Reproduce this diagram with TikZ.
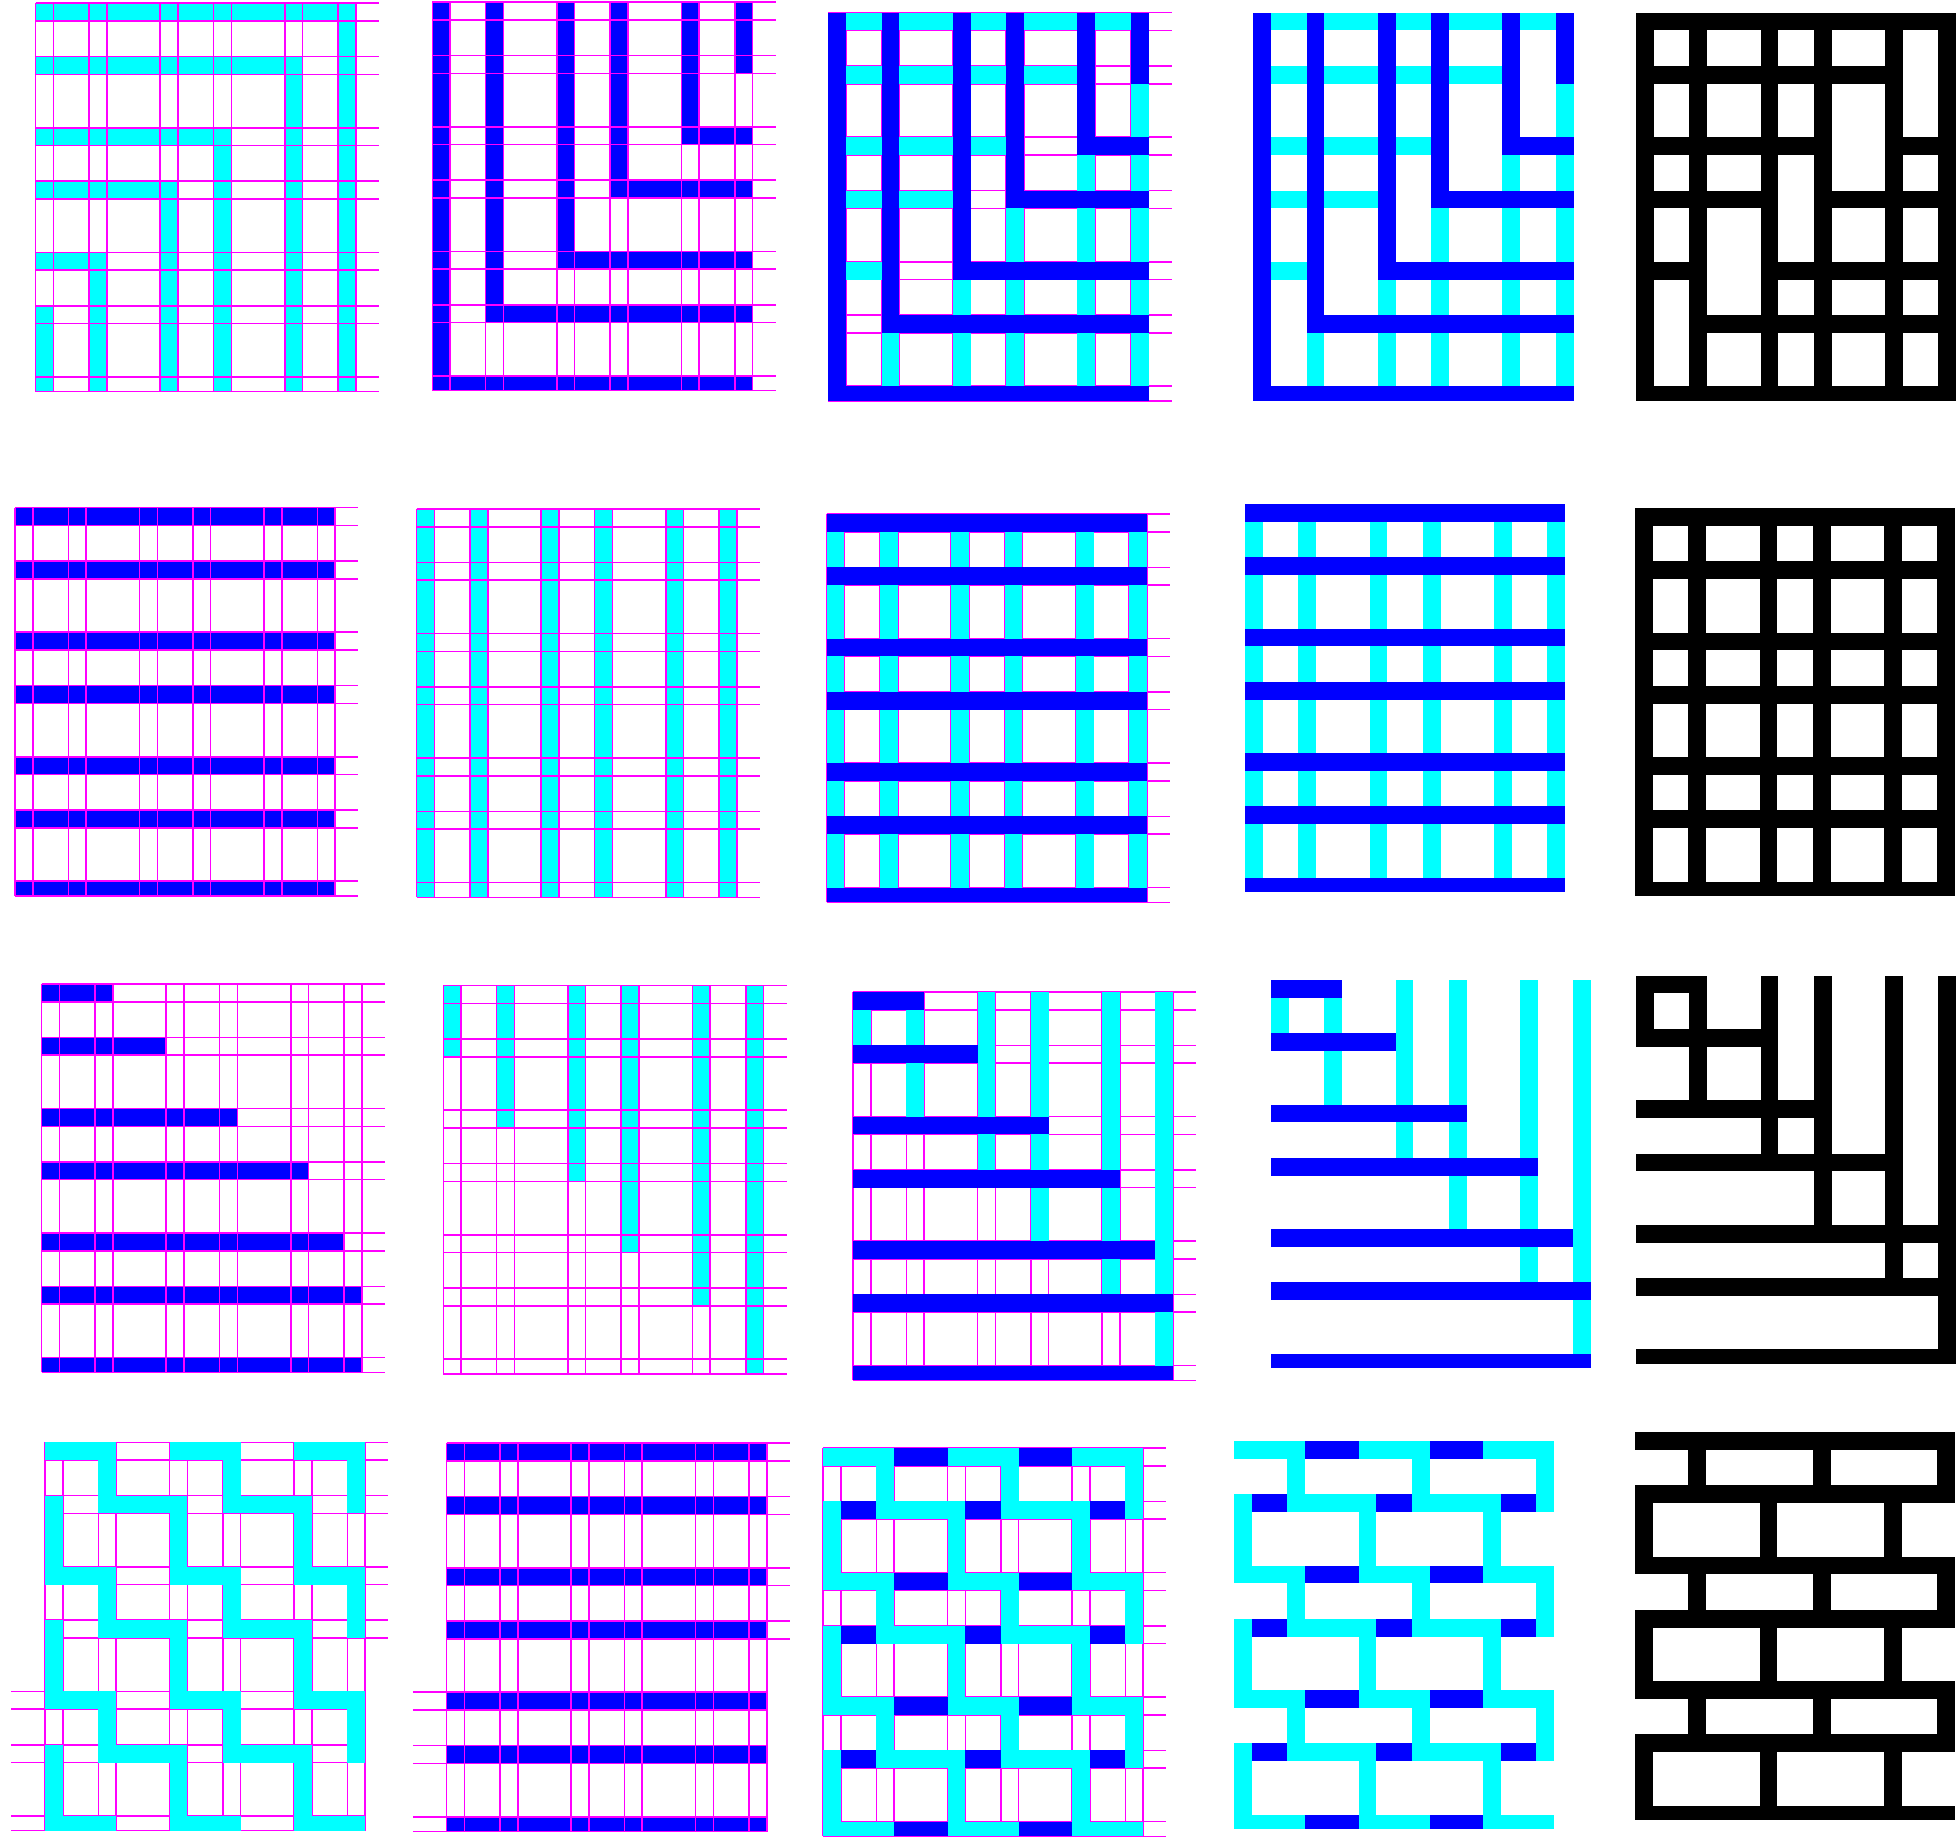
\documentclass[tikz,border=0pt]{standalone}
\usepackage{tikz}

\definecolor{barcyan}{RGB}{0,255,255}
\definecolor{barblue}{RGB}{0,0,255}
\definecolor{meshpink}{RGB}{255,0,255}

\newcommand\ybot{21.83}
% bar patterns, in grid units (x to the right, y downwards)
\newcommand\gammabars[1]{%
  \foreach \ry/\cx in {0/17, 3/14, 7/10, 10/7, 14/3, 17/0}{
    \fill[#1] (0,\ry) rectangle (\cx+1,\ry+1);
    \fill[#1] (\cx,\ry) rectangle (\cx+1,\ybot);
  }}
\newcommand\ellbars[1]{%
  \foreach \cx/\ry/\ye in {17/3/4, 14/7/8, 10/10/11, 7/14/15, 3/17/18, 0/21/\ybot}{
    \fill[#1] (\cx,0) rectangle (\cx+1,\ye);
    \fill[#1] (\cx,\ry) rectangle (18,\ye);
  }}
\newcommand\fullrows[1]{\foreach \ya/\yb in {0/1,3/4,7/8,10/11,14/15,17/18,21/\ybot}
  \fill[#1] (0,\ya) rectangle (18,\yb);}
\newcommand\fullcols[1]{\foreach \cx in {0,3,7,10,14,17}
  \fill[#1] (\cx,0) rectangle (\cx+1,\ybot);}
\newcommand\steprows[1]{\foreach \ya/\yb/\xe in {0/1/4, 3/4/7, 7/8/11, 10/11/15, 14/15/17, 17/18/18, 21/\ybot/18}
  \fill[#1] (0,\ya) rectangle (\xe,\yb);}
\newcommand\stepcols[1]{\foreach \cx/\ye in {0/4, 3/8, 7/11, 10/15, 14/18, 17/\ybot}
  \fill[#1] (\cx,0) rectangle (\cx+1,\ye);}
\newcommand\zigbars[1]{%
  \foreach \ya/\yb in {0/1,7/8,14/15,21/\ybot}
    \foreach \xa/\xb in {0/4,7/11,14/18} \fill[#1] (\xa,\ya) rectangle (\xb,\yb);
  \foreach \ya in {3,10,17}
    \foreach \xa/\xb in {3/8,10/15} \fill[#1] (\xa,\ya) rectangle (\xb,\ya+1);
  \foreach \cx in {0,7,14}
    \foreach \ya/\yb in {3/8,10/15,17/\ybot} \fill[#1] (\cx,\ya) rectangle (\cx+1,\yb);
  \foreach \cx in {3,10,17}
    \foreach \ya/\yb in {0/4,7/11,14/18} \fill[#1] (\cx,\ya) rectangle (\cx+1,\yb);
}
% construction lines
\newcommand\meshcols{\foreach \xa in {0,1,3,4,7,8,10,11,14,15,17,18}
  \draw[meshline] (\xa,0) -- (\xa,\ybot);}
\newcommand\meshright{\meshcols
  \foreach \ya in {0,1,3,4,7,8,10,11,14,15,17,18,21,\ybot}
    \draw[meshline] (0,\ya) -- (19.3,\ya);}
\newcommand\meshsplit{\meshcols
  \foreach \ya in {0,1,3,4,7,8,10,11} \draw[meshline] (0,\ya) -- (19.3,\ya);
  \foreach \ya in {14,15,17,18,21,\ybot} \draw[meshline] (-1.9,\ya) -- (18,\ya);}

\begin{document}
\begin{tikzpicture}[
  x=0.01cm, y=-0.01cm,
  panelat/.style 2 args = {shift={(#1,#2)}, x=0.1778cm, y=-0.1778cm},
  meshline/.style       = {draw=meshpink, line width=0.45pt},
  cyanbar/.style        = {fill=barcyan},
  bluebar/.style        = {fill=barblue},
  inkbar/.style         = {fill=black},
]
  \useasboundingbox (0,0) rectangle (1956,1846);

  % row 1: gamma + ell
  \begin{scope}[panelat={35.7}{3.3}]    \gammabars{cyanbar} \meshright \end{scope}
  \begin{scope}[panelat={432.3}{2.3}]   \ellbars{bluebar} \meshright \end{scope}
  \begin{scope}[panelat={828.3}{12.7}]  \meshright \gammabars{cyanbar} \ellbars{bluebar} \end{scope}
  \begin{scope}[panelat={1253.3}{12.7}] \gammabars{cyanbar} \ellbars{bluebar} \end{scope}
  \begin{scope}[panelat={1636}{12.7}]   \gammabars{inkbar} \ellbars{inkbar} \end{scope}

  % row 2: full rows + full columns
  \begin{scope}[panelat={15}{507.7}]    \fullrows{bluebar} \meshright \end{scope}
  \begin{scope}[panelat={416.7}{509}]   \fullcols{cyanbar} \meshright \end{scope}
  \begin{scope}[panelat={826.7}{514}]   \meshright \fullcols{cyanbar} \fullrows{bluebar} \end{scope}
  \begin{scope}[panelat={1245}{504}]    \fullcols{cyanbar} \fullrows{bluebar} \end{scope}
  \begin{scope}[panelat={1635}{508}]    \fullcols{inkbar} \fullrows{inkbar} \end{scope}

  % row 3: stepped rows + stepped columns
  \begin{scope}[panelat={41.7}{984}]    \steprows{bluebar} \meshright \end{scope}
  \begin{scope}[panelat={443.3}{985.7}] \stepcols{cyanbar} \meshright \end{scope}
  \begin{scope}[panelat={853}{992}]     \meshright \stepcols{cyanbar} \steprows{bluebar} \end{scope}
  \begin{scope}[panelat={1271}{980}]    \stepcols{cyanbar} \steprows{bluebar} \end{scope}
  \begin{scope}[panelat={1636}{975.7}]  \stepcols{inkbar} \steprows{inkbar} \end{scope}

  % row 4: zigzag + full rows
  \begin{scope}[panelat={45}{1442.3}]   \meshsplit \zigbars{cyanbar} \end{scope}
  \begin{scope}[panelat={446.6}{1443.2}] \fullrows{bluebar} \meshsplit \end{scope}
  \begin{scope}[panelat={823}{1448}]    \meshright \fullrows{bluebar} \zigbars{cyanbar} \end{scope}
  \begin{scope}[panelat={1234}{1441}]   \fullrows{bluebar} \zigbars{cyanbar} \end{scope}
  \begin{scope}[panelat={1635}{1432}]   \fullrows{inkbar} \zigbars{inkbar} \end{scope}
\end{tikzpicture}
\end{document}
